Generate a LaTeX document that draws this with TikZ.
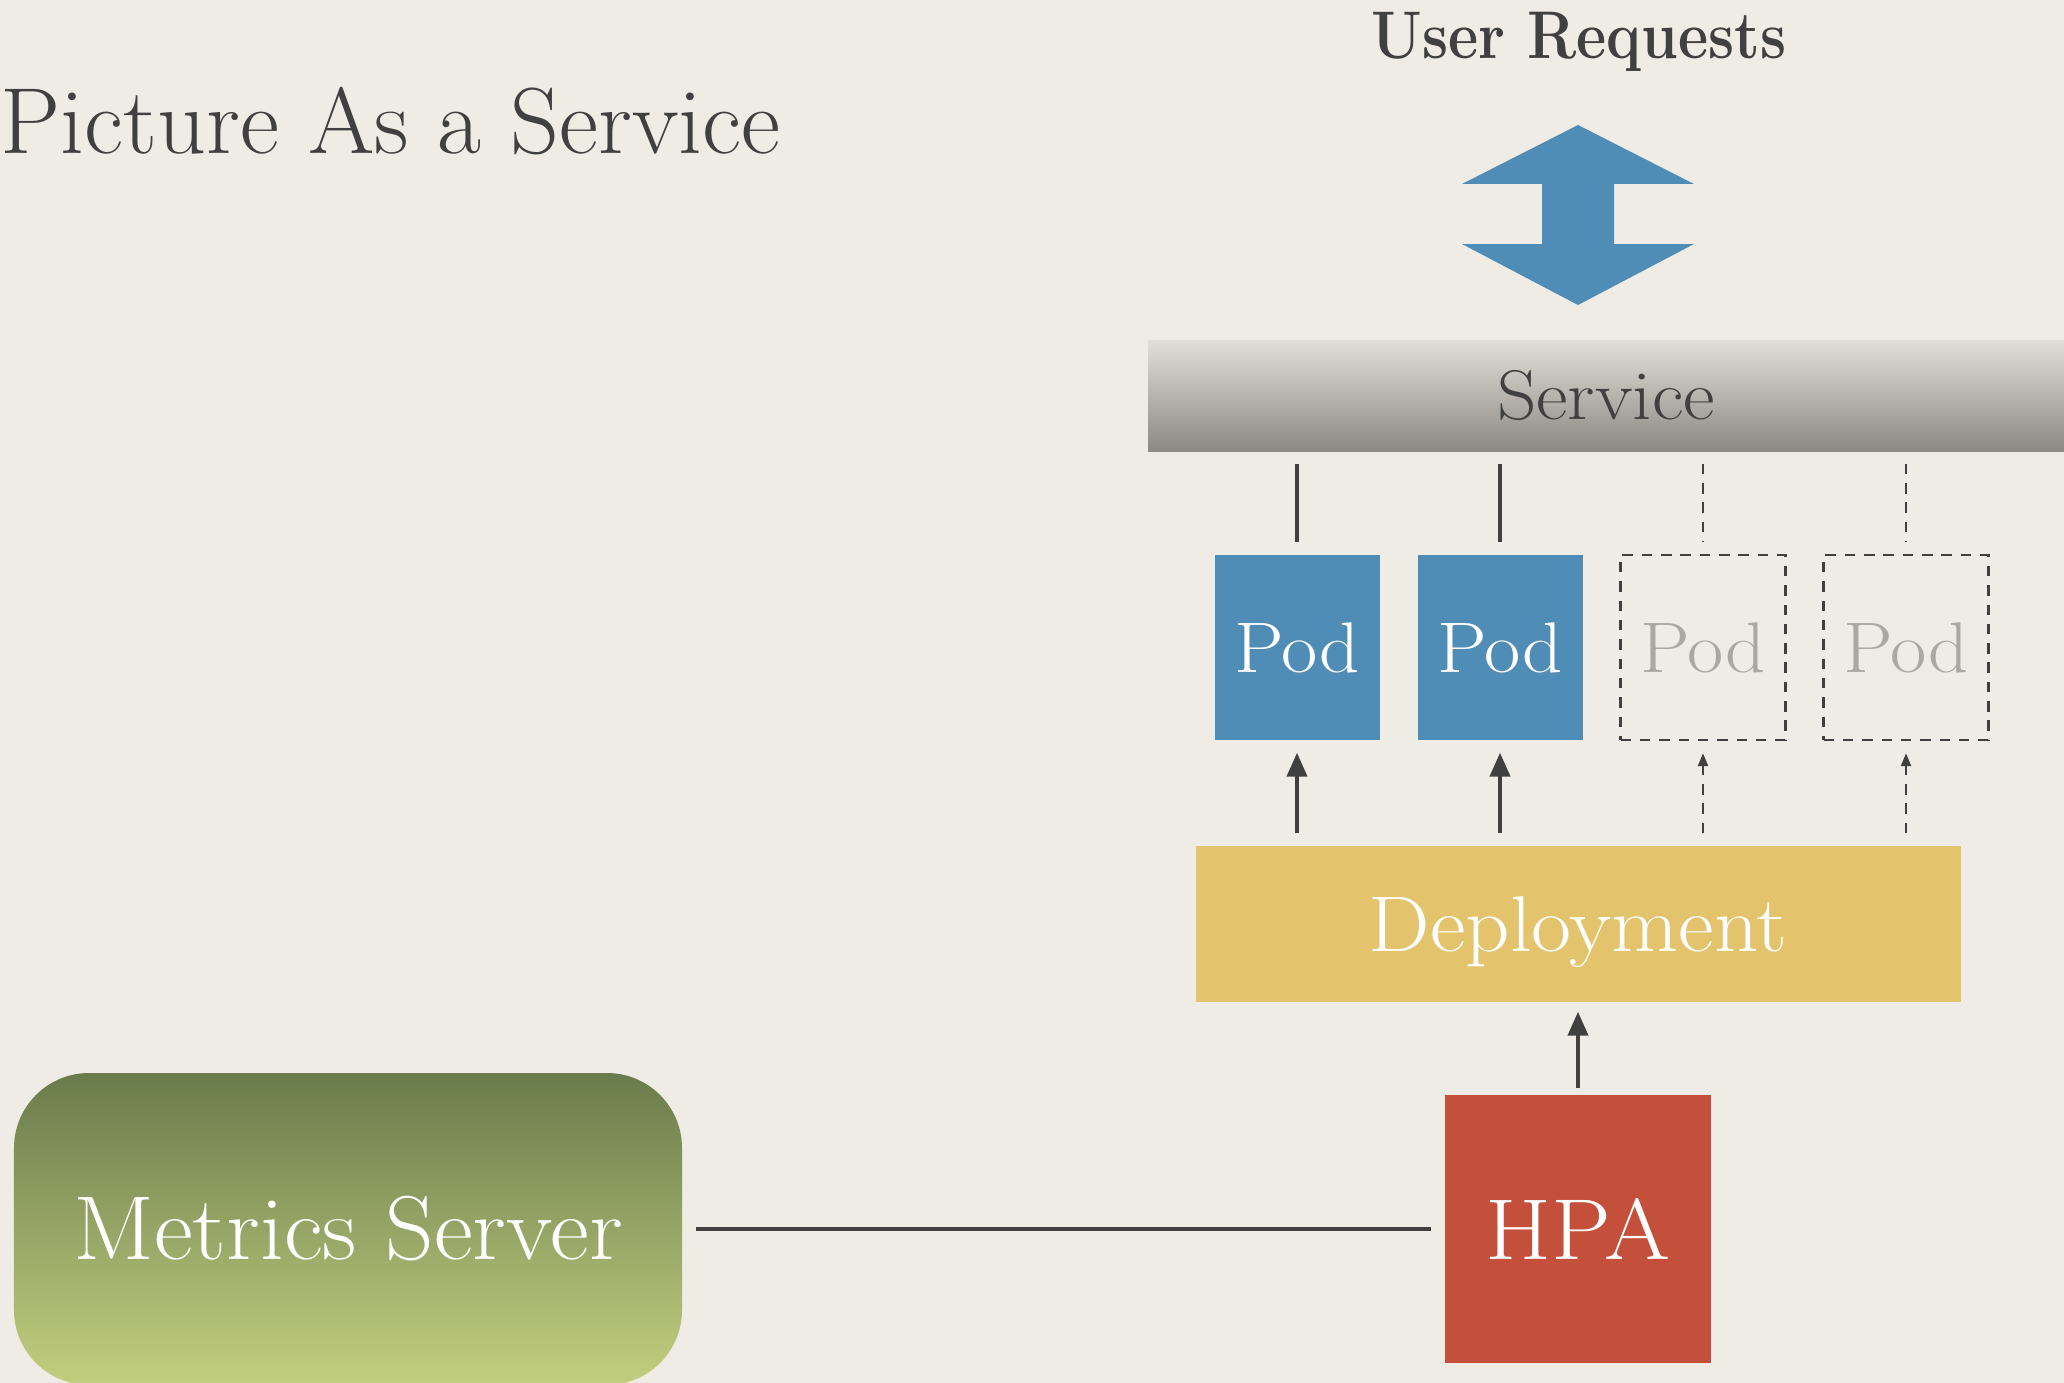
\documentclass[tikz,border=0pt]{standalone}
\usepackage{tikz}
\usepackage{graphicx}
\usetikzlibrary{positioning, arrows.meta}
\usetikzlibrary{calc}
\definecolor{paper}{HTML}{EFECE6}
\definecolor{ink}{HTML}{404040}
\definecolor{podblue}{HTML}{4F8CB6}
\definecolor{deployyellow}{HTML}{E3C46C}
\definecolor{hpared}{HTML}{C44F3A}
\definecolor{svctop}{HTML}{E2DED8}
\definecolor{svcbot}{HTML}{8C8984}
\definecolor{mstop}{HTML}{6A7B4C}
\definecolor{msbot}{HTML}{C3CF7F}
\definecolor{ghosttext}{HTML}{ABA8A3}
\newcommand\sizedfont[1]{\fontsize{#1}{#1}\selectfont}
\newcommand\stretchx[2]{\scalebox{#1}[1]{#2}}
\tikzset{
node distance=2.03cm, % pods sit side by side at this distance
link/.style={draw=ink, line width=1.2pt, shorten <=0.12cm, shorten >=0.12cm}, % solid connector
ghostlink/.style={draw=ink, line width=0.7pt, dash pattern=on 3pt off 2.5pt, shorten <=0.12cm, shorten >=0.12cm}, % dashed connector
>={Triangle[length=0.24cm, width=0.2cm]}, % arrow heads
pod/.style={minimum width=1.65cm, minimum height=1.85cm, inner sep=0pt, text=white, font=\sizedfont{20.4pt}}, % one pod
runpod/.style={pod, fill=podblue}, % a pod that runs
sparepod/.style={pod, draw=ink, line width=0.7pt, dash pattern=on 3pt off 2.5pt, text=ghosttext}, % a pod still to come
}

\begin{document}
\begin{tikzpicture}
    \useasboundingbox (0,0) rectangle (20.64,-13.83);
    \fill[paper] (0,0) rectangle (20.64,-13.83);
    \node[anchor=base west, inner sep=0pt, text=ink, font=\sizedfont{26.7pt}] (title) at (0,-1.54) {\stretchx{1.02}{Picture As a Service}};
    \node[anchor=base, inner sep=0pt, text=ink, font=\sizedfont{19.2pt}\bfseries] (users) at (15.79,-0.59) {\stretchx{0.87}{User Requests}};
    \fill[podblue] (15.78,-1.25) -- (16.94,-1.84) -- (16.14,-1.84) -- (16.14,-2.44) -- (16.94,-2.44)
        -- (15.78,-3.05) -- (14.62,-2.44) -- (15.42,-2.44) -- (15.42,-1.84) -- (14.62,-1.84) -- cycle;
    \node[top color=svctop, bottom color=svcbot, minimum width=9.16cm, minimum height=1.11cm,
        inner sep=0pt, text=ink, font=\sizedfont{20pt}] (svc) at (16.06,-3.955) {\stretchx{1.1}{Service}};
    \node[runpod] (pod1) at (12.97,-6.475) {\stretchx{1.1}{Pod}};
    \node[runpod, right of=pod1] (pod2) {\stretchx{1.1}{Pod}};
    \node[sparepod, right of=pod2] (pod3) {\stretchx{1.1}{Pod}};
    \node[sparepod, right of=pod3] (pod4) {\stretchx{1.1}{Pod}};
    \node[fill=deployyellow, minimum width=7.65cm, minimum height=1.56cm, inner sep=0pt, text depth=0pt,
        text=white, font=\sizedfont{22.5pt}] (deploy) at (15.78,-9.24) {\stretchx{1.1}{Deployment}};
    \node[fill=hpared, minimum width=2.66cm, minimum height=2.68cm, inner sep=0pt,
        text=white, font=\sizedfont{24.6pt}] (hpa) at (15.78,-12.29) {\stretchx{1.1}{HPA}};
    \node[top color=mstop, bottom color=msbot, rounded corners=0.75cm, minimum width=6.68cm,
        minimum height=3.12cm, inner sep=0pt, text=white, font=\sizedfont{25.8pt}] (metrics) at (3.48,-12.29) {\stretchx{1.05}{Metrics Server}};
    \foreach \p in {pod1, pod2} {
        \draw[link] (svc.south -| \p) -- (\p);
        \draw[link, ->] (deploy.north -| \p) -- (\p);
    }
    \foreach \p in {pod3, pod4} {
        \draw[ghostlink] (svc.south -| \p) -- (\p);
        \draw[ghostlink, -{Triangle[length=0.13cm, width=0.1cm]}] (deploy.north -| \p) -- (\p);
    }
    \draw[link, ->, shorten <=0.06cm, shorten >=0.09cm] (hpa) -- (deploy);
    \draw[link, shorten <=0.13cm, shorten >=0.13cm] (metrics) -- (hpa);
\end{tikzpicture}
\end{document}
